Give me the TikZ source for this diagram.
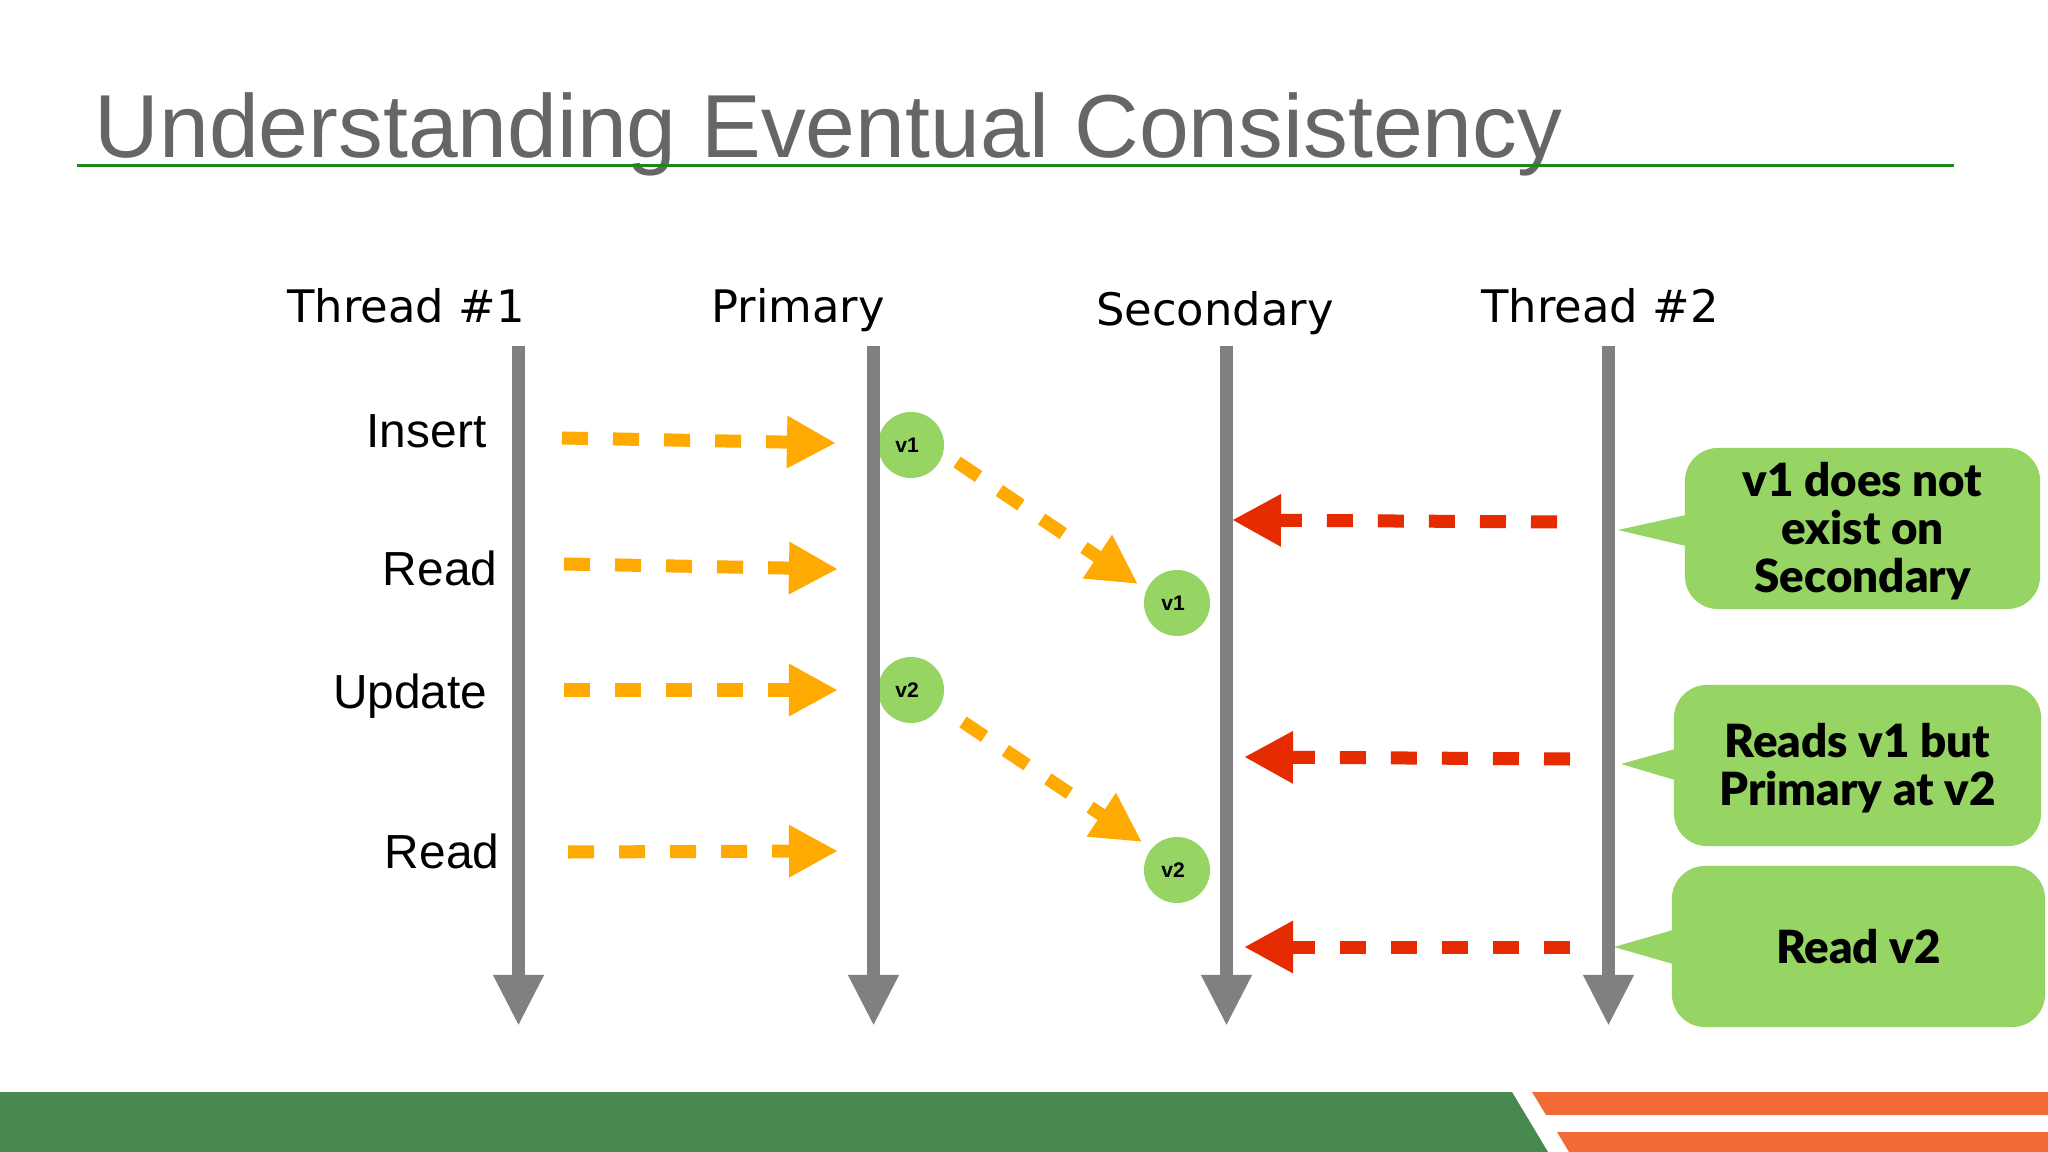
\documentclass[tikz,border=0pt]{standalone}
\usepackage{fontspec}
\setmainfont{Liberation Sans}
\newfontfamily\headfont{DejaVu Sans}
\newfontfamily\callfont{Lato Black}
\usepackage{tikz}
\usetikzlibrary{arrows.meta}
\definecolor{axisgray}{HTML}{807F82}
\definecolor{arrorange}{HTML}{FFAA00}
\definecolor{arrred}{HTML}{E62B00}
\definecolor{boxgreen}{HTML}{96D464}
\definecolor{barorange}{HTML}{F26A35}
\definecolor{bargreen}{HTML}{47894F}
\definecolor{rulegreen}{HTML}{1A8A1A}
\tikzset{
head/.style={
  anchor=base,
  inner sep=0pt,
  font=\headfont\fontsize{12.75}{15}\selectfont
  },
op/.style={
  anchor=base east,
  inner sep=0pt,
  font=\fontsize{13.6}{16}\selectfont
  },
ver/.style={
  circle,
  inner sep=0pt,
  minimum size=6.6mm,
  fill=boxgreen,
  font=\bfseries\fontsize{6}{7}\selectfont
  },
note/.style={
  rectangle,
  rounded corners=3.3mm,
  inner sep=0pt,
  minimum height=16.1mm,
  align=center,
  fill=boxgreen,
  font=\callfont\fontsize{13}{13.65}\selectfont
  },
axis/.style={
  line width=1.3mm,
  draw=axisgray,
  >={Triangle[length=5.1mm,width=4.7mm]}
  },
write/.style={
  line width=1.3mm,
  draw=arrorange,
  dash pattern=on 2.6mm off 2.5mm
  },
fetch/.style={
  line width=1.3mm,
  draw=arrred,
  dash pattern=on 2.6mm off 2.5mm
  }
}
\begin{document}
\begin{tikzpicture}[x=0.01cm,y=-0.01cm,->,>={Triangle[length=4.9mm,width=4.9mm]}]
        \useasboundingbox (0,0) rectangle (2048,1152);
        \fill[white] (0,0) rectangle (2048,1152);
        \fill[bargreen] (0,1092) -- (1512,1092) -- (1548,1152) -- (0,1152) -- cycle;
        \fill[barorange] (1532,1092) -- (2048,1092) -- (2048,1115) -- (1546,1115) -- cycle;
        \fill[barorange] (1557,1132) -- (2048,1132) -- (2048,1152) -- (1569,1152) -- cycle;
        \node[anchor=base west,inner sep=0pt,text=black!60,font=\fontsize{25.45}{30}\selectfont] at (94,158) (title) {Understanding Eventual Consistency};
        \coordinate (rulea) at (77,166);
        \coordinate (ruleb) at (1954,166);
        \node[head] at (406,323) (t1) {Thread \#1};
        \node[head] at (798,323) (prim) {Primary};
        \node[head] at (1215,326) (sec) {Secondary};
        \node[head] at (1600,323) (t2) {Thread \#2};
        \coordinate (t1a) at (518.5,346);
        \coordinate (t1b) at (518.5,1026);
        \coordinate (pa) at (873.5,346);
        \coordinate (pb) at (873.5,1026);
        \coordinate (sa) at (1226.5,346);
        \coordinate (sb) at (1226.5,1026);
        \coordinate (t2a) at (1608.5,346);
        \coordinate (t2b) at (1608.5,1026);
        \node[op] at (487,448) (ins) {Insert};
        \node[op] at (498,585) (rd1) {Read};
        \node[op] at (488,708) (upd) {Update};
        \node[op] at (500,868) (rd2) {Read};
        \coordinate (w1a) at (562,438);
        \coordinate (w1b) at (836,443);
        \coordinate (w2a) at (564,564);
        \coordinate (w2b) at (838,569);
        \coordinate (w3a) at (564,690);
        \coordinate (w3b) at (838,690);
        \coordinate (w4a) at (568,852);
        \coordinate (w4b) at (838,851);
        \node[ver] at (911,445) (p1) {v1\kern0.8mm};
        \node[ver] at (911,690) (p2) {v2\kern0.8mm};
        \node[ver] at (1177,603) (s1) {v1\kern0.8mm};
        \node[ver] at (1177,870) (s2) {v2\kern0.8mm};
        \coordinate (r1a) at (957,462);
        \coordinate (r1b) at (1138,584);
        \coordinate (r2a) at (963,722);
        \coordinate (r2b) at (1142,842);
        \coordinate (f1a) at (1557,522);
        \coordinate (f1b) at (1232,520);
        \coordinate (f2a) at (1570,759);
        \coordinate (f2b) at (1244,757);
        \coordinate (f3a) at (1570,947);
        \coordinate (f3b) at (1244,947);
        \node[note,minimum width=35.5mm] at (1862.5,528.5) (n1) {\rule{0pt}{4mm}v1 does not\\exist on\\Secondary};
        \node[note,minimum width=36.7mm] at (1857.5,765.5) (n2) {\rule{0pt}{4mm}Reads v1 but\\Primary at v2};
        \node[note,minimum width=37.3mm] at (1858.5,946.5) (n3) {Read v2};
        \fill[boxgreen] (1618,530) -- (1686,515) -- (1686,546) -- cycle;
        \fill[boxgreen] (1621,764) -- (1675,749) -- (1675,780) -- cycle;
        \fill[boxgreen] (1614,947) -- (1673,930) -- (1673,964) -- cycle;
        \path[-]
        (rulea) edge [draw=rulegreen,line width=0.3mm] (ruleb)
        ;
        \path[->]
        (t1a) edge [axis] (t1b)
        (pa) edge [axis] (pb)
        (sa) edge [axis] (sb)
        (t2a) edge [axis] (t2b)
        (w1a) edge [write] (w1b)
        (w2a) edge [write] (w2b)
        (w3a) edge [write] (w3b)
        (w4a) edge [write] (w4b)
        (r1a) edge [write] (r1b)
        (r2a) edge [write] (r2b)
        (f1a) edge [fetch] (f1b)
        (f2a) edge [fetch] (f2b)
        (f3a) edge [fetch] (f3b)
        ;
    \end{tikzpicture}
\end{document}
